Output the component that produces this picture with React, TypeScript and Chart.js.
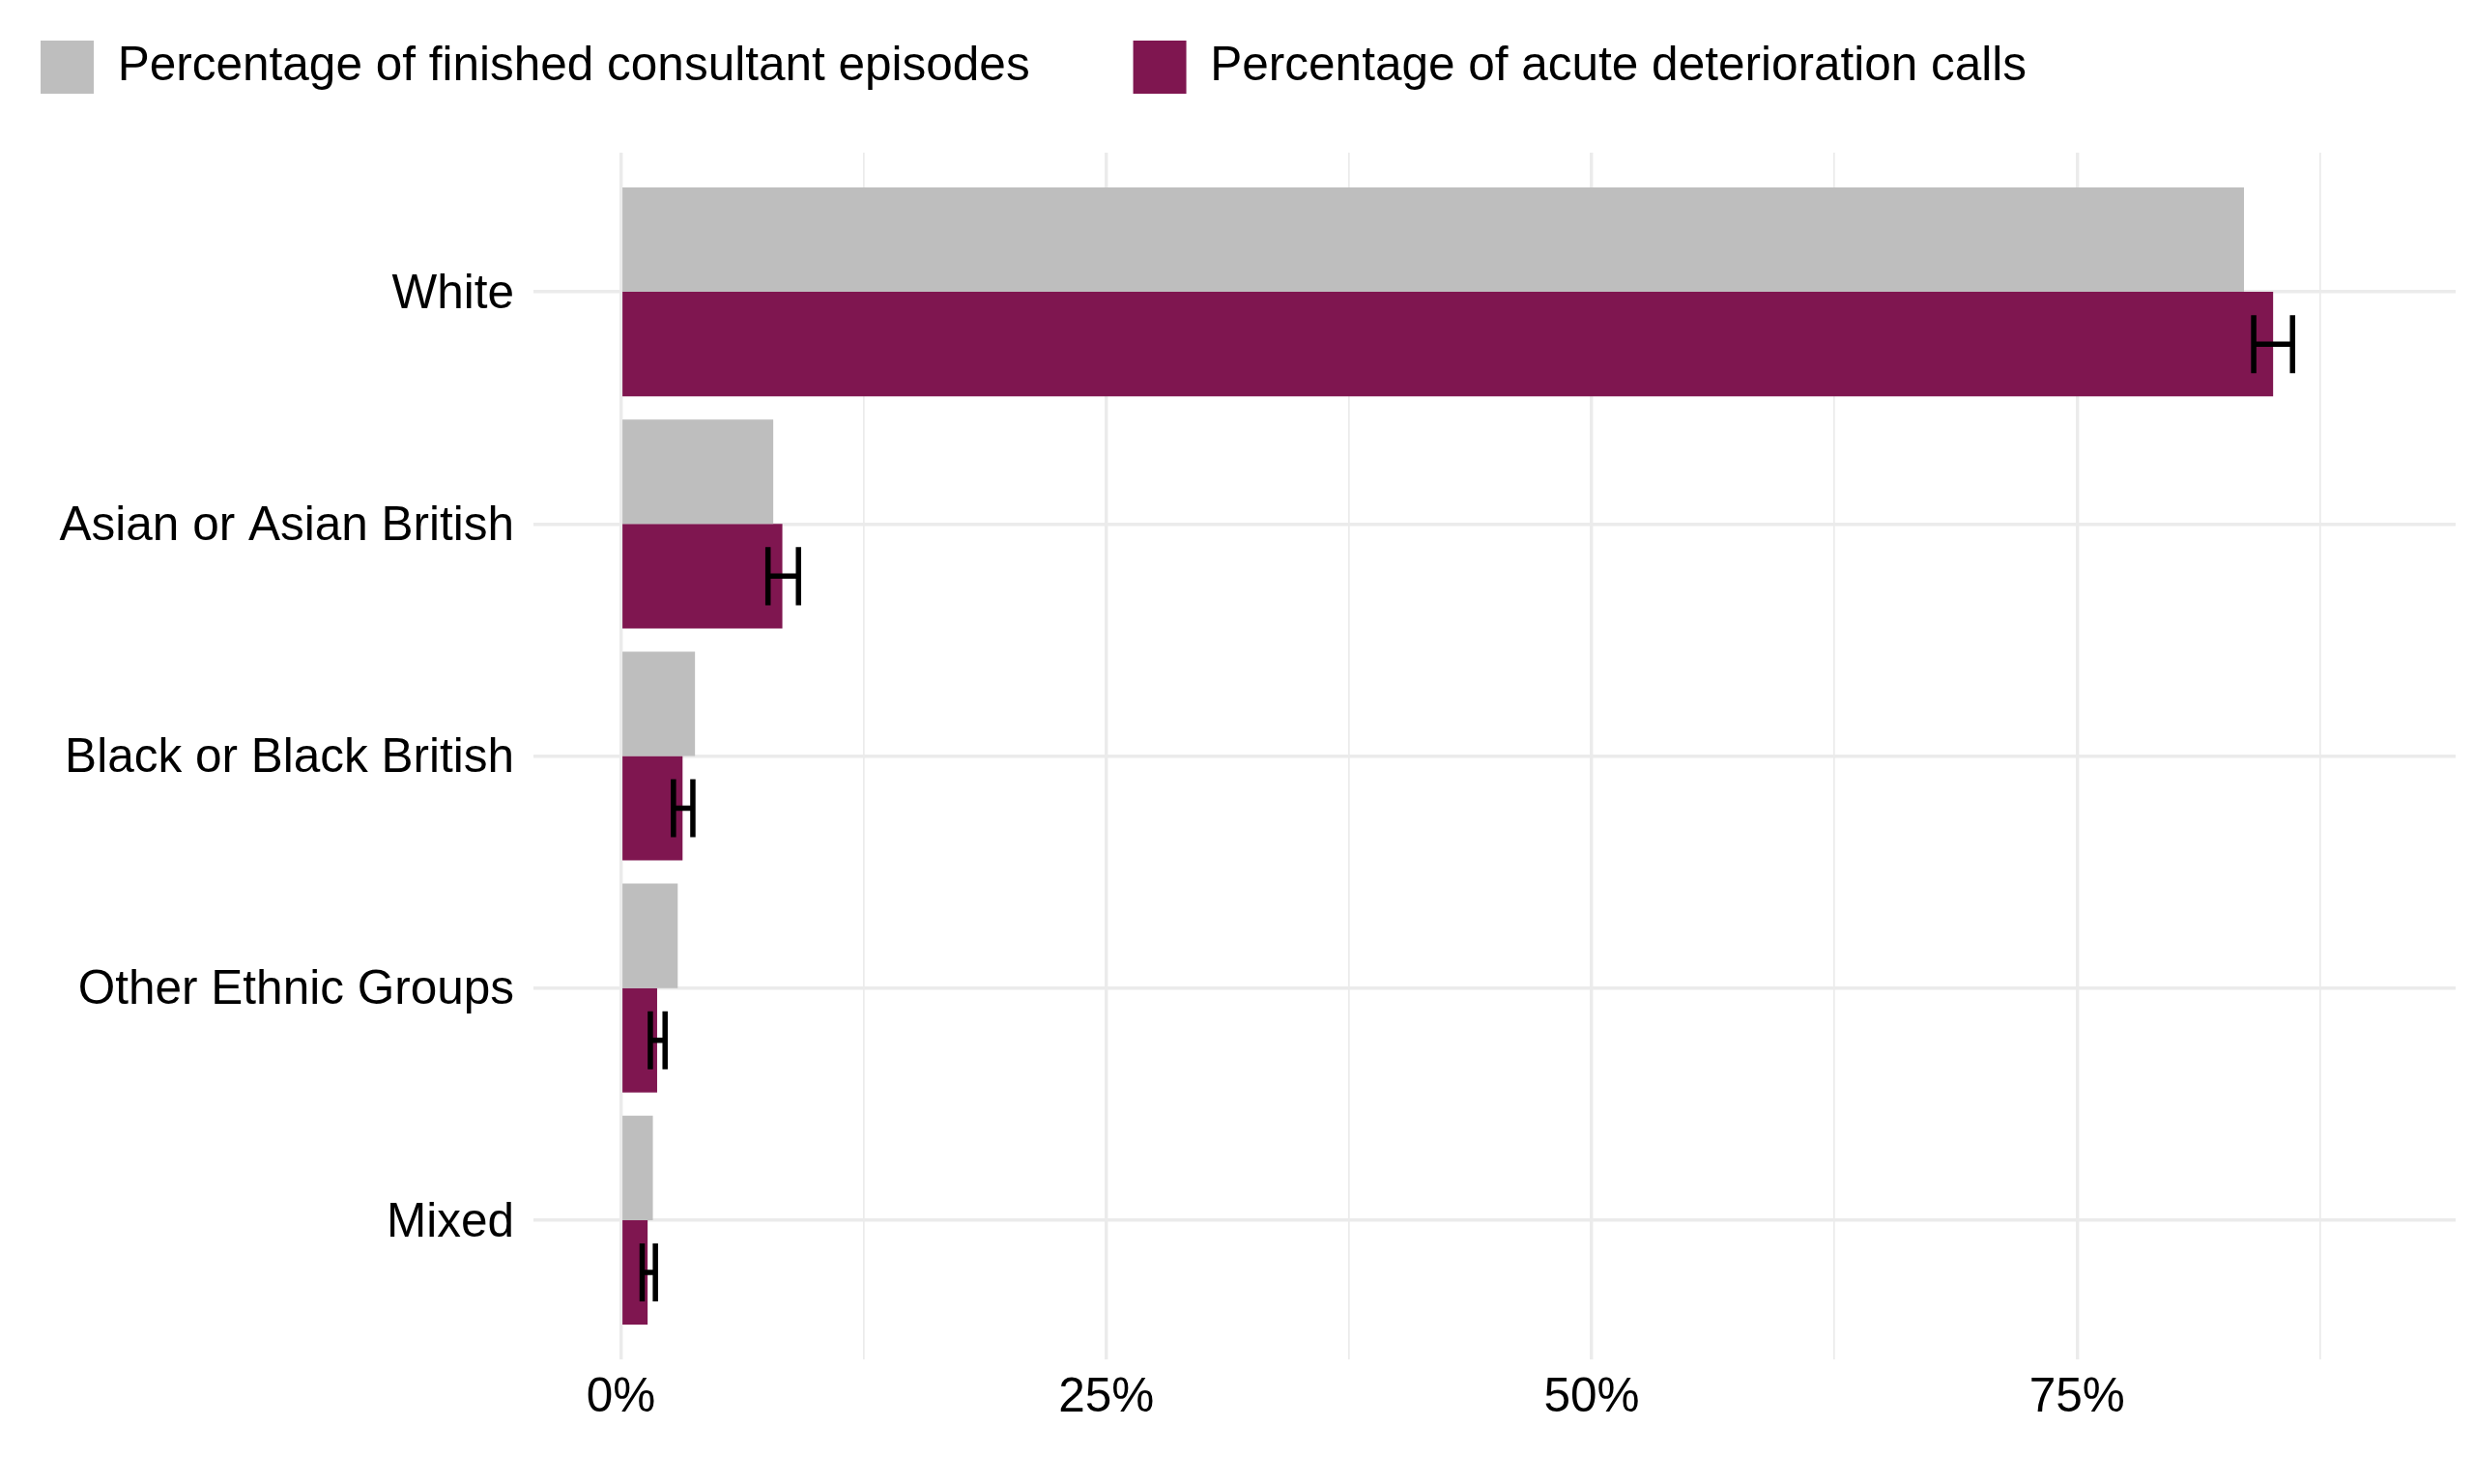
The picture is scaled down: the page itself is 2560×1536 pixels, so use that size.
import React, { useEffect, useRef } from 'react';
import { Chart, registerables } from 'chart.js';

Chart.register(...registerables);

const categories = [
  'White',
  'Asian or Asian British',
  'Black or Black British',
  'Other Ethnic Groups',
  'Mixed',
];
const episodesPct = [83.6, 7.85, 3.82, 2.93, 1.65];
const callsPct = [85.1, 8.32, 3.18, 1.87, 1.38];
const callsLow = [84.1, 7.58, 2.71, 1.52, 1.1];
const callsHigh = [86.1, 9.15, 3.71, 2.28, 1.78];
const xTickValues = [0, 12.5, 25, 37.5, 50, 62.5, 75, 87.5];
const xLabelled = [0, 25, 50, 75];

const FONT = '"Liberation Sans", Arial, Helvetica, sans-serif';
const FONT_SIZE = 49.5;
const GRID = '#EBEBEB';

const errorBars = {
  id: 'errorBars',
  afterDatasetsDraw(chart: any) {
    const meta = chart.getDatasetMeta(1);
    const xs = chart.scales.x;
    const ys = chart.scales.y;
    const half = Math.abs(ys.getPixelForValue(1) - ys.getPixelForValue(0)) * 0.125;
    const ctx = chart.ctx;
    ctx.save();
    ctx.strokeStyle = '#000000';
    ctx.lineWidth = 5.5;
    meta.data.forEach((bar: any, i: number) => {
      const y = bar.y;
      const x0 = xs.getPixelForValue(callsLow[i]);
      const x1 = xs.getPixelForValue(callsHigh[i]);
      ctx.beginPath();
      ctx.moveTo(x0, y);
      ctx.lineTo(x1, y);
      ctx.moveTo(x0, y - half);
      ctx.lineTo(x0, y + half);
      ctx.moveTo(x1, y - half);
      ctx.lineTo(x1, y + half);
      ctx.stroke();
    });
    ctx.restore();
  },
};

// legend sits in a fixed-height band above the panel
const legendBand = {
  id: 'legendBand',
  beforeInit(chart: any) {
    const legend = chart.legend;
    if (!legend) return;
    const fit = legend.fit;
    legend.fit = function () {
      fit.call(this);
      this.height = 158;
    };
  },
};

export default function App() {
  const canvasRef = useRef<HTMLCanvasElement>(null);

  useEffect(() => {
    if (!canvasRef.current) return;
    const chart = new Chart(canvasRef.current, {
      type: 'bar',
      data: {
        datasets: [
          {
            label: 'Percentage of finished consultant episodes',
            data: episodesPct.map((v, i) => ({ x: v, y: i })),
            backgroundColor: '#BEBEBE',
            borderWidth: 0,
            categoryPercentage: 0.9,
            barPercentage: 1.0,
          },
          {
            label: 'Percentage of acute deterioration calls',
            data: callsPct.map((v, i) => ({ x: v, y: i })),
            backgroundColor: '#7F1650',
            borderWidth: 0,
            categoryPercentage: 0.9,
            barPercentage: 1.0,
          },
        ],
      },
      options: {
        indexAxis: 'y',
        animation: false,
        responsive: true,
        maintainAspectRatio: false,
        layout: { padding: { left: 0, right: 19, top: 0, bottom: 0 } },
        plugins: {
          tooltip: { enabled: false },
          legend: {
            position: 'top',
            align: 'start',
            labels: {
              boxWidth: 55,
              boxHeight: 55,
              padding: 42,
              color: '#000000',
              font: { family: FONT, size: FONT_SIZE },
              // wider gap after the first entry
              generateLabels: (c: any) =>
                Chart.defaults.plugins.legend.labels
                  .generateLabels(c)
                  .map((item: any, i: number) => ({
                    ...item,
                    text: i === 0 ? item.text + '    \u2009' : item.text,
                  })),
            },
          },
        },
        scales: {
          x: {
            type: 'linear',
            min: -4.5,
            max: 94.5,
            afterBuildTicks: (s: any) => {
              s.ticks = xTickValues.map((value) => ({ value }));
            },
            afterFit: (s: any) => {
              s.height = 129;
            },
            ticks: {
              autoSkip: false,
              maxRotation: 0,
              padding: 11,
              color: '#000000',
              font: { family: FONT, size: FONT_SIZE },
              callback: (v: any) => (xLabelled.includes(Number(v)) ? `${v}%` : ''),
            },
            grid: {
              color: GRID,
              drawTicks: false,
              lineWidth: (ctx: any) =>
                ctx.tick && xLabelled.includes(ctx.tick.value) ? 3.4 : 1.7,
            },
            border: { display: false },
          },
          y: {
            type: 'linear',
            reverse: true,
            offset: false,
            min: -0.6,
            max: 4.6,
            afterBuildTicks: (s: any) => {
              s.ticks = categories.map((_, i) => ({ value: i }));
            },
            afterFit: (s: any) => {
              s.width = 552;
            },
            ticks: {
              autoSkip: false,
              padding: 20,
              labelOffset: 3,
              color: '#000000',
              font: { family: FONT, size: FONT_SIZE },
              callback: (v: any) => categories[Number(v)] ?? '',
            },
            grid: { color: GRID, drawTicks: false, lineWidth: 3.6, offset: false },
            border: { display: false },
          },
        },
      },
      plugins: [errorBars, legendBand],
    });
    return () => chart.destroy();
  }, []);

  return (
    <div
      style={{ position: 'absolute', left: 0, top: 0, width: 2560, height: 1536, background: '#fff' }}
    >
      <canvas ref={canvasRef} />
    </div>
  );
}
